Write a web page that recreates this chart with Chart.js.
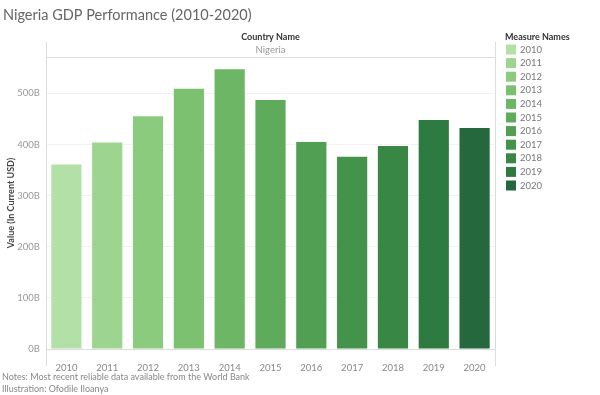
<!DOCTYPE html>
<html>
<head>
<meta charset="utf-8">
<title>Nigeria GDP Performance (2010-2020)</title>
<script src="https://cdn.jsdelivr.net/npm/chart.js@4.4.1/dist/chart.umd.min.js"></script>
<style>
    html, body { margin: 0; padding: 0; background: #ffffff; }
    #wrap { width: 600px; height: 395px; position: relative; }
</style>
</head>
<body>
<div id="wrap"><canvas id="graficoPil"></canvas></div>
<script>
// dati (miliardi di USD correnti)
const anni = ["2010", "2011", "2012", "2013", "2014", "2015", "2016", "2017", "2018", "2019", "2020"];
const pil = [361, 404, 455, 509, 547, 487, 405, 376, 397, 448, 432];
const tickY = [0, 100, 200, 300, 400, 500];
const colori = ["#b3e0a6", "#9dd590", "#8bcb7e", "#7bc170", "#6cb665", "#5eab5b", "#509f52", "#43934b", "#388745", "#2d7b40", "#25683d"];

const titolo = "Nigeria GDP Performance (2010-2020)";
const note = ["Notes: Most recent reliable data available from the World Bank", "Illustration: Ofodile Iloanya"];

const FONT = "Lato, 'Open Sans', sans-serif";

document.addEventListener("DOMContentLoaded", function () {
    const ctx = document.getElementById("graficoPil").getContext("2d");

    // testi, intestazione e legenda disegnati a mano
    const decorazioni = {
        id: "decorazioni",
        afterDraw(chart) {
            const c = chart.ctx;
            const area = chart.chartArea;
            c.save();

            // titolo
            c.fillStyle = "#666666";
            c.font = "14.5px " + FONT;
            c.textAlign = "left";
            c.textBaseline = "middle";
            c.fillText(titolo, 3, 15);

            // cornice del pannello
            c.strokeStyle = "#dddddd";
            c.lineWidth = 1;
            c.beginPath();
            c.moveTo(area.left + 0.5, 42);
            c.lineTo(area.left + 0.5, 366);
            c.moveTo(area.right + 0.5, 42);
            c.lineTo(area.right + 0.5, 366);
            c.moveTo(area.left, 57.5);
            c.lineTo(area.right, 57.5);
            c.stroke();

            // intestazione
            const centro = (area.left + area.right) / 2;
            c.textAlign = "center";
            c.fillStyle = "#333333";
            c.font = "bold 9px " + FONT;
            c.fillText("Country Name", centro, 37);
            c.fillStyle = "#999999";
            c.font = "9.5px " + FONT;
            c.fillText("Nigeria", centro, 50);

            // legenda
            c.textAlign = "left";
            c.fillStyle = "#333333";
            c.font = "bold 9px " + FONT;
            c.fillText("Measure Names", 505, 37);
            c.font = "9.5px " + FONT;
            anni.forEach((anno, i) => {
                const y = 49.5 + i * 13.6;
                c.fillStyle = colori[i];
                c.fillRect(506, y - 5, 10, 10);
                c.fillStyle = "#777777";
                c.fillText(anno, 520, y);
            });

            // note in basso
            c.fillStyle = "#888888";
            c.font = "9px " + FONT;
            c.fillText(note[0], 2, 377);
            c.fillText(note[1], 2, 389);

            c.restore();
        }
    };

    new Chart(ctx, {
        type: "bar",
        data: {
            labels: anni,
            datasets: [{
                label: "GDP",
                data: pil,
                backgroundColor: colori,
                borderWidth: 0,
                barPercentage: 0.74,
                categoryPercentage: 1
            }]
        },
        options: {
            responsive: true,
            maintainAspectRatio: false,
            animation: false,
            layout: { padding: { top: 57, left: 0, right: 105, bottom: 0 } },
            plugins: {
                legend: { display: false },
                tooltip: { enabled: false }
            },
            scales: {
                x: {
                    grid: { display: false },
                    border: { display: true, color: "#dddddd" },
                    ticks: { color: "#888888", font: { family: FONT, size: 9.5 }, padding: 5, maxRotation: 0 },
                    afterFit(scale) { scale.height = 46; }
                },
                y: {
                    min: 0,
                    max: 571,
                    afterBuildTicks(scale) { scale.ticks = tickY.map(v => ({ value: v })); },
                    grid: { color: "#f2f2f2", drawTicks: false },
                    border: { display: false },
                    ticks: {
                        color: "#999999",
                        font: { family: FONT, size: 9.5 },
                        padding: 6,
                        callback: v => v + "B"
                    },
                    title: {
                        display: true,
                        text: "Value (In Current USD)",
                        color: "#444444",
                        font: { family: FONT, size: 9, weight: "bold" },
                        padding: { top: 6, bottom: 0 }
                    },
                    afterFit(scale) { scale.width = 46; }
                }
            }
        },
        plugins: [decorazioni]
    });
});
</script>
</body>
</html>
